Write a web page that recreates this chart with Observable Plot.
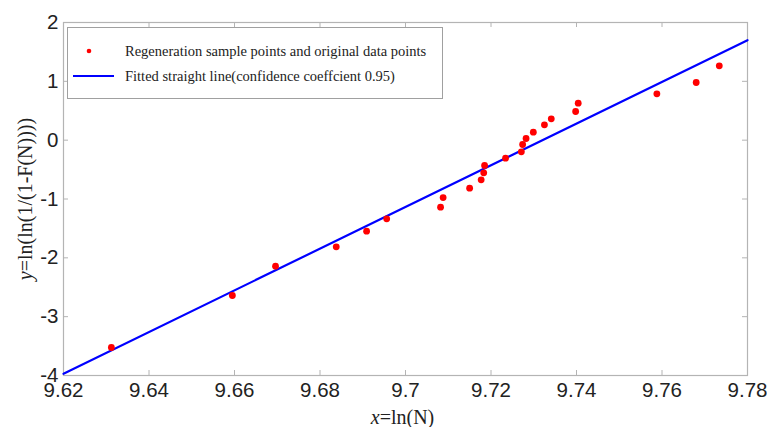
<!DOCTYPE html>
<html><head><meta charset="utf-8">
<script src="https://cdn.jsdelivr.net/npm/d3@7"></script>
<script src="https://cdn.jsdelivr.net/npm/@observablehq/plot@0.6"></script>
<style>
body{margin:0;background:#fff;}
#wrap{position:relative;width:767px;height:427px;}
.legend{position:absolute;left:67px;top:27px;width:374px;height:70px;border:1px solid #a0a0a0;background:#fff;font-family:"Liberation Serif",serif;font-size:14.5px;color:#222;}
.legend .row{position:absolute;left:0;height:20px;line-height:20px;white-space:nowrap;}
.legend svg{position:absolute;left:0;top:0;}
.legend span{position:absolute;left:57px;top:0;}
</style></head><body><div id="wrap"></div>
<script>
const xValues = [9.6312, 9.6595, 9.6696, 9.6838, 9.6909, 9.6956, 9.7082, 9.7088, 9.7150, 9.7177,
  9.7183, 9.7185, 9.7234, 9.7271, 9.7274, 9.7282, 9.7299, 9.7325, 9.7341, 9.7398,
  9.7404, 9.7588, 9.7680, 9.7734];
const yValues = [-3.524, -2.64, -2.142, -1.813, -1.547, -1.337, -1.139, -0.975, -0.816, -0.674,
  -0.555, -0.431, -0.306, -0.198, -0.074, 0.028, 0.136, 0.261, 0.363, 0.487,
  0.628, 0.788, 0.980, 1.264];
const fitX = [9.62, 9.78];
const fitY = [-3.97, 1.70];
const xTicks = [9.62, 9.64, 9.66, 9.68, 9.70, 9.72, 9.74, 9.76, 9.78];
const yTicks = [-4, -3, -2, -1, 0, 1, 2];
const legendLabels = ["Regeneration sample points and original data points", "Fitted straight line(confidence coeffcient 0.95)"];
const xLabel = ["x", "=ln(N)"];
const yLabel = ["y", "=ln(ln(1/(1-F(N))))"];

const points = xValues.map((x, i) => ({x, y: yValues[i]}));
const fit = fitX.map((x, i) => ({x, y: fitY[i]}));

const chart = Plot.plot({
  width: 767, height: 427,
  marginLeft: 63, marginRight: 20, marginTop: 22, marginBottom: 52,
  style: {fontFamily: "'Liberation Sans', Arial, sans-serif", background: "#fff", color: "#222"},
  x: {domain: [9.62, 9.78]},
  y: {domain: [-4, 2]},
  marks: [
    Plot.frame({stroke: "#b4b4b4", strokeWidth: 1.2}),
    Plot.tickX(xTicks, {x: d => d, insetTop: 348, stroke: "#b4b4b4"}),
    Plot.tickX(xTicks, {x: d => d, insetBottom: 348, stroke: "#b4b4b4"}),
    Plot.tickY(yTicks, {y: d => d, insetRight: 679, stroke: "#b4b4b4"}),
    Plot.tickY(yTicks, {y: d => d, insetLeft: 679, stroke: "#b4b4b4"}),
    Plot.axisX({ticks: xTicks, tickSize: 0, tickPadding: 7, fontSize: 20.5, tickFormat: d => String(d), label: null}),
    Plot.axisY({ticks: yTicks, tickSize: 0, tickPadding: 5, fontSize: 20.5, tickFormat: d => String(d), label: null}),
    Plot.line(fit, {x: "x", y: "y", stroke: "#0000ff", strokeWidth: 2.2}),
    Plot.dot(points, {x: "x", y: "y", r: 3.4, fill: "#ff0000", stroke: null}),
    Plot.text([xLabel.join("")], {frameAnchor: "bottom", textAnchor: "middle", lineAnchor: "bottom", dy: 48, dx: -3, fontSize: 20, fontFamily: "'Liberation Serif', serif", fill: "#222", className: "xlab"}),
    Plot.text([yLabel.join("")], {frameAnchor: "left", textAnchor: "middle", lineAnchor: "middle", dx: -38, rotate: -90, fontSize: 20, fontFamily: "'Liberation Serif', serif", fill: "#222", className: "ylab"})
  ]
});

// italicise the variable name in axis labels
function styleLabel(cls, parts) {
  d3.select(chart).selectAll(`g.${cls} text`).each(function() {
    const t = d3.select(this);
    t.text(null);
    t.append("tspan").attr("font-style", "italic").text(parts[0]);
    t.append("tspan").text(parts[1]);
  });
}
styleLabel("xlab", xLabel);
styleLabel("ylab", yLabel);

const wrap = document.getElementById("wrap");
wrap.appendChild(chart);

const legend = document.createElement("div");
legend.className = "legend";
legend.innerHTML = `
  <div class="row" style="top:13px;width:374px;"><svg width="55" height="20"><circle cx="21" cy="10" r="2.3" fill="#ff0000"/></svg><span>${legendLabels[0]}</span></div>
  <div class="row" style="top:38px;width:374px;"><svg width="55" height="20"><line x1="5" x2="46" y1="10" y2="10" stroke="#0000ff" stroke-width="2.2"/></svg><span>${legendLabels[1]}</span></div>`;
wrap.appendChild(legend);
</script>
</body></html>
